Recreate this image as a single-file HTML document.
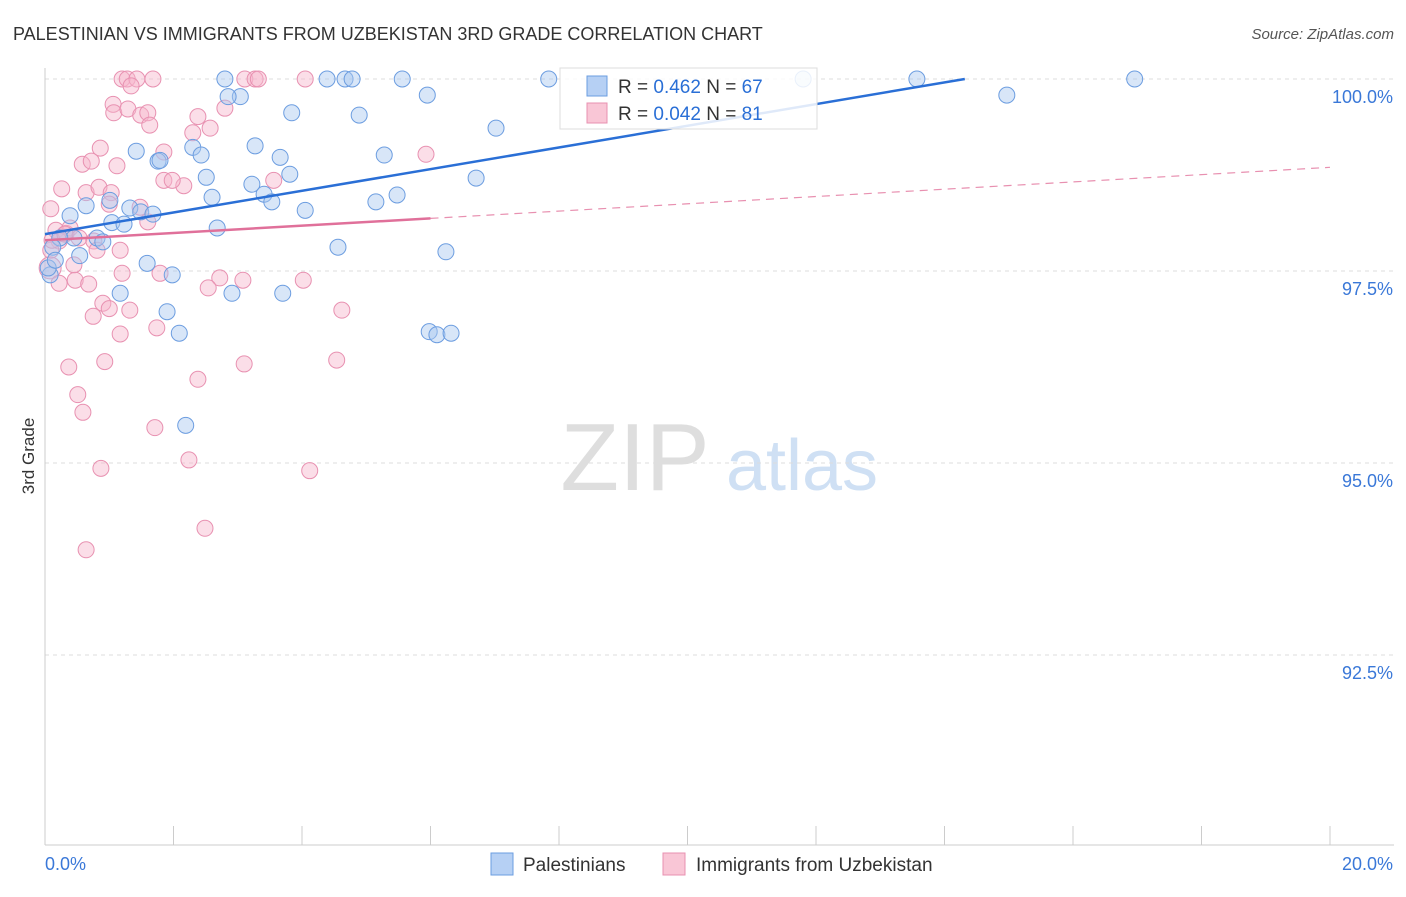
<!DOCTYPE html>
<html><head><meta charset="utf-8">
<style>
body{margin:0;background:#fff;font-family:"Liberation Sans",sans-serif;}
svg text{font-family:"Liberation Sans",sans-serif;}
</style></head>
<body>
<svg id="chart" width="1406" height="892" viewBox="0 0 1406 892" xmlns="http://www.w3.org/2000/svg">
<text x="13" y="40" font-size="18" fill="#333">PALESTINIAN VS IMMIGRANTS FROM UZBEKISTAN 3RD GRADE CORRELATION CHART</text>
<text x="1394" y="39" font-size="15" fill="#555" text-anchor="end" font-style="italic">Source: ZipAtlas.com</text>
<text x="34" y="456" font-size="17" fill="#333" text-anchor="middle" transform="rotate(-90 34 456)">3rd Grade</text>
<g id="watermark">
<text x="635" y="490" font-size="96" fill="#dedede" text-anchor="middle" font-family="Liberation Serif">ZIP</text>
<text x="802" y="490" font-size="72" fill="#cfe0f4" text-anchor="middle">atlas</text>
</g>
<g id="grid"></g><g id="axes"></g><g id="pts"></g><g id="lines"></g>
<g id="legend">
<rect x="560" y="68" width="257" height="61" fill="#fff" fill-opacity="0.85" stroke="#ddd"/>
<rect x="587" y="76" width="20" height="20" fill="#b6d0f4" stroke="#6b9ee0"/>
<rect x="587" y="103" width="20" height="20" fill="#f9c6d6" stroke="#e890b0"/>
<text x="618" y="93" font-size="19" fill="#333">R = <tspan fill="#2a6fd6">0.462</tspan>   N = <tspan fill="#2a6fd6">67</tspan></text>
<text x="618" y="120" font-size="19" fill="#333">R = <tspan fill="#2a6fd6">0.042</tspan>   N = <tspan fill="#2a6fd6">81</tspan></text>
</g>
<g>
<rect x="491" y="853" width="22" height="22" fill="#b6d0f4" stroke="#6b9ee0"/>
<text x="523" y="871" font-size="19" fill="#333">Palestinians</text>
<rect x="663" y="853" width="22" height="22" fill="#f9c6d6" stroke="#e890b0"/>
<text x="696" y="871" font-size="19" fill="#333">Immigrants from Uzbekistan</text>
</g>
</svg>
<script>
const yTicks=[100,97.5,95,92.5];
const yTickLabels=["100.0%","97.5%","95.0%","92.5%"];
const xTicks=[0,2,4,6,8,10,12,14,16,18,20];
const xEndLabels=["0.0%","20.0%"];
const blueX=[2.80,4.39,4.67,4.78,5.56,7.84,11.80,13.57,16.96,3.04,2.85,5.95,14.97,3.84,4.89,7.02,3.27,2.30,1.42,2.43,1.76,3.66,5.28,3.81,2.51,6.71,3.22,3.41,2.60,5.48,5.15,3.53,0.64,1.32,4.05,0.39,1.49,1.68,1.04,1.23,2.68,0.81,0.45,0.23,0.90,0.12,4.56,6.24,0.54,1.59,1.98,0.08,1.17,2.91,3.70,1.90,2.09,5.98,6.10,6.32,2.19,0.05,0.16,1.01,1.79];
const blueY=[100,100,100,100,100,100,100,100,100,99.77,99.77,99.79,99.79,99.56,99.53,99.36,99.13,99.11,99.06,99.01,98.93,98.98,99.01,98.76,98.72,98.71,98.63,98.50,98.46,98.49,98.40,98.40,98.35,98.32,98.29,98.22,98.27,98.24,98.13,98.11,98.06,97.93,97.93,97.93,97.88,97.81,97.81,97.75,97.70,97.60,97.45,97.45,97.21,97.21,97.21,96.97,96.69,96.71,96.67,96.69,95.49,97.54,97.64,98.42,98.94];
const pinkX=[1.20,1.28,1.43,1.68,3.11,3.27,3.32,4.05,1.34,1.06,1.07,1.29,1.49,1.60,1.63,2.80,2.38,2.57,2.30,0.86,1.85,0.58,0.72,1.12,5.93,0.26,0.64,0.84,1.03,2.16,1.85,1.98,3.56,0.09,1.00,1.48,1.60,0.17,0.33,0.39,0.53,0.76,0.22,0.09,0.45,0.08,0.81,1.20,1.79,2.72,3.08,4.02,0.47,0.68,0.22,2.54,0.90,1.00,1.32,0.75,1.17,1.74,4.62,0.37,0.93,3.10,4.54,2.38,0.51,0.59,1.71,2.24,0.87,4.12,2.49,0.64,0.11,0.31,1.17];
const pinkY=[100,100,100,100,100,100,100,100,99.91,99.67,99.56,99.61,99.53,99.56,99.40,99.62,99.51,99.36,99.30,99.10,99.05,98.89,98.93,98.87,99.02,98.57,98.52,98.59,98.52,98.61,98.68,98.68,98.68,98.31,98.37,98.33,98.14,98.03,97.99,98.06,97.93,97.89,97.89,97.77,97.58,97.54,97.77,97.47,97.47,97.41,97.38,97.38,97.38,97.33,97.34,97.28,97.08,97.01,96.99,96.91,96.68,96.76,96.99,96.25,96.32,96.29,96.34,96.09,95.89,95.66,95.46,95.04,94.93,94.90,94.15,93.87,97.90,97.98,97.77];
const blueFit=[97.98,0.1411]; // intercept, slope
const pinkFit=[97.90,0.0475];
const X=v=>45+v*64.25, Y=v=>79+(100-v)*76.8;
const NS="http://www.w3.org/2000/svg";
function mk(p,t,a){const e=document.createElementNS(NS,t);for(const k in a)e.setAttribute(k,a[k]);document.getElementById(p).appendChild(e);return e;}
yTicks.forEach((t,i)=>{
 const g=mk('grid','line',{x1:45,x2:1394,y1:Y(t),y2:Y(t),stroke:'#ddd','stroke-dasharray':'4,4'});
 
 
 const l=mk('axes','text',{x:1393,y:Y(t)+24,'font-size':18,fill:'#3a78d8','text-anchor':'end'});
 l.textContent=yTickLabels[i];
 
 
});
const ax=mk('axes','line',{x1:45,x2:45,y1:68,y2:845,stroke:'#ccc'});


const bx=mk('axes','line',{x1:45,x2:1394,y1:845,y2:845,stroke:'#ccc'});


xTicks.forEach(t=>{const e=mk('axes','line',{x1:X(t),x2:X(t),y1:826,y2:845,stroke:'#ccc'});
 
 });
const xl0=mk('axes','text',{x:45,y:870,'font-size':18,fill:'#3a78d8'});xl0.textContent=xEndLabels[0];


const xl1=mk('axes','text',{x:1393,y:870,'font-size':18,fill:'#3a78d8','text-anchor':'end'});xl1.textContent=xEndLabels[1];


pinkX.forEach((v,i)=>{const c=mk('pts','circle',{cx:X(v),cy:Y(pinkY[i]),r:(i==45?11:8),fill:'#f7b6cb','fill-opacity':0.45,stroke:'#e891b1','stroke-width':1});
 
 });
blueX.forEach((v,i)=>{const c=mk('pts','circle',{cx:X(v),cy:Y(blueY[i]),r:8,fill:'#a9c7ef','fill-opacity':0.45,stroke:'#6c9de0','stroke-width':1});
 
 });
const bEnd=(100-blueFit[0])/blueFit[1];
const bl=mk('lines','line',{x1:X(0),y1:Y(blueFit[0]),x2:X(bEnd),y2:Y(100),stroke:'#2a6fd6','stroke-width':2.5});


const pl=mk('lines','line',{x1:X(0),y1:Y(pinkFit[0]),x2:X(6),y2:Y(pinkFit[0]+6*pinkFit[1]),stroke:'#e0709a','stroke-width':2.5});


const pd=mk('lines','line',{x1:X(6),y1:Y(pinkFit[0]+6*pinkFit[1]),x2:X(20),y2:Y(pinkFit[0]+20*pinkFit[1]),stroke:'#e890b0','stroke-width':1.2,'stroke-dasharray':'8,6'});


</script>
</body></html>
